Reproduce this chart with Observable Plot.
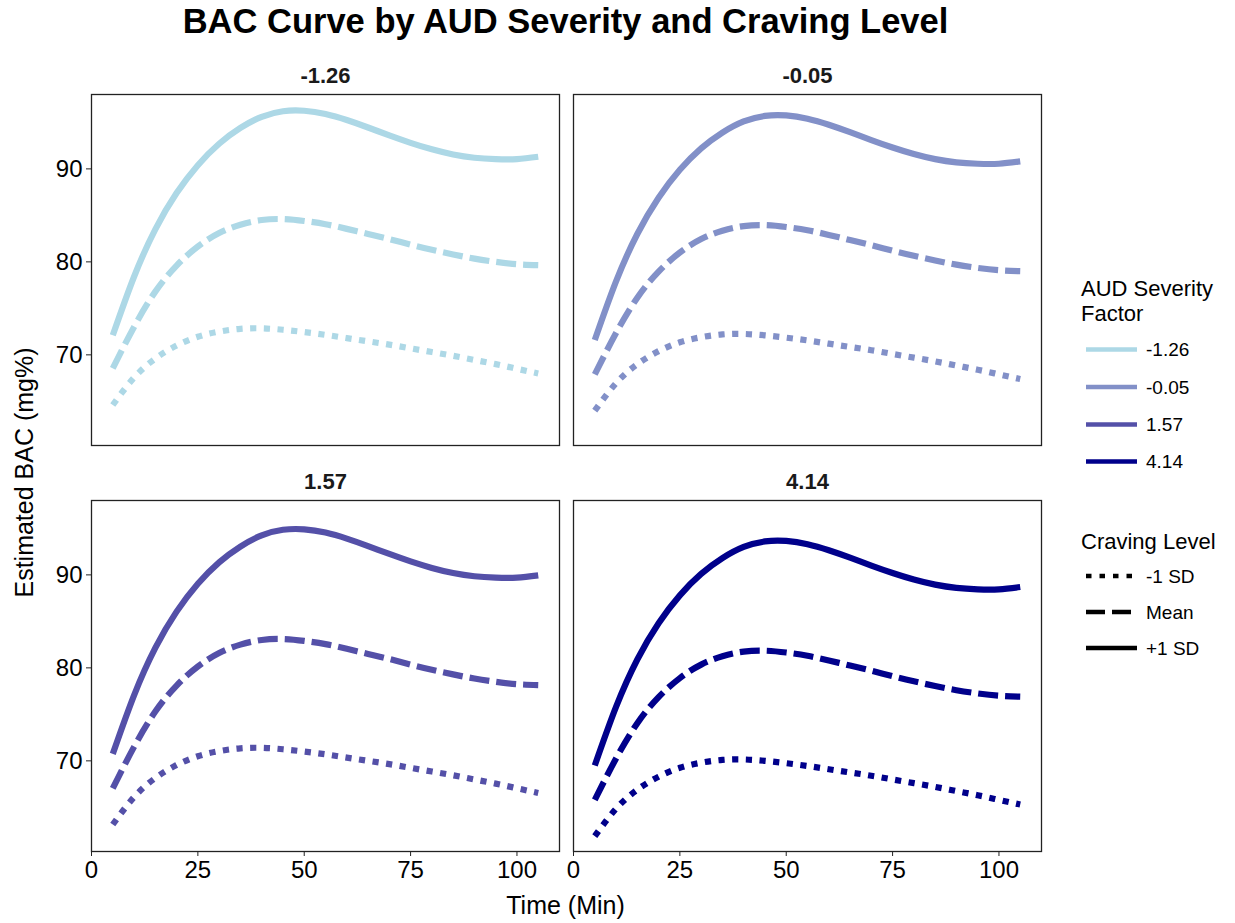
<!DOCTYPE html>
<html>
<head>
<meta charset="utf-8">
<script src="https://cdn.jsdelivr.net/npm/d3@7"></script>
<script src="https://cdn.jsdelivr.net/npm/@observablehq/plot@0.6"></script>
<style>
  html, body { margin: 0; padding: 0; background: #ffffff; }
  #chart { width: 1235px; height: 923px; }
</style>
</head>
<body>
<div id="chart"></div>
<script>
// ---------------- data ----------------
const times = [5, 10, 15, 20, 25, 30, 35, 40, 45, 50, 55, 60, 65, 70, 75, 80, 85, 90, 95, 100, 105];
const facets = ["-1.26", "-0.05", "1.57", "4.14"];
const cravingLevels = ["-1 SD", "Mean", "+1 SD"];
const facetColors = ["#ADD8E6", "#8290C8", "#5450A8", "#00008B"];
const xTicks = [0, 25, 50, 75, 100];
const yTicks = [70, 80, 90];

// AUD severity -1.26
const bacM126Low  = [64.6, 67.55, 69.6, 71.0, 71.95, 72.5, 72.8, 72.85, 72.7, 72.45, 72.15, 71.8, 71.45, 71.1, 70.7, 70.3, 69.9, 69.45, 69.0, 68.5, 68.0];
const bacM126Mean = [68.55, 73.0, 76.8, 79.6, 81.65, 83.1, 84.0, 84.5, 84.6, 84.4, 84.05, 83.55, 83.0, 82.45, 81.85, 81.3, 80.8, 80.35, 80.0, 79.75, 79.65];
const bacM126High = [72.1, 78.4, 83.5, 87.4, 90.4, 92.7, 94.4, 95.6, 96.2, 96.25, 95.9, 95.25, 94.45, 93.6, 92.8, 92.1, 91.55, 91.2, 91.05, 91.05, 91.3];
// AUD severity -0.05
const bacM005Low  = [64.0, 66.95, 69.0, 70.4, 71.35, 71.9, 72.2, 72.25, 72.1, 71.85, 71.55, 71.2, 70.85, 70.5, 70.1, 69.7, 69.3, 68.85, 68.4, 67.9, 67.4];
const bacM005Mean = [67.9, 72.35, 76.15, 78.95, 81.0, 82.45, 83.35, 83.85, 83.95, 83.75, 83.4, 82.9, 82.35, 81.8, 81.2, 80.65, 80.15, 79.7, 79.35, 79.1, 79.0];
const bacM005High = [71.6, 77.9, 83.0, 86.9, 89.9, 92.2, 93.9, 95.1, 95.7, 95.75, 95.4, 94.75, 93.95, 93.1, 92.3, 91.6, 91.05, 90.7, 90.55, 90.55, 90.8];
// AUD severity 1.57
const bacP157Low  = [63.15, 66.1, 68.15, 69.55, 70.5, 71.05, 71.35, 71.4, 71.25, 71.0, 70.7, 70.35, 70.0, 69.65, 69.25, 68.85, 68.45, 68.0, 67.55, 67.05, 66.55];
const bacP157Mean = [67.05, 71.5, 75.3, 78.1, 80.15, 81.6, 82.5, 83.0, 83.1, 82.9, 82.55, 82.05, 81.5, 80.95, 80.35, 79.8, 79.3, 78.85, 78.5, 78.25, 78.15];
const bacP157High = [70.75, 77.05, 82.15, 86.05, 89.05, 91.35, 93.05, 94.25, 94.85, 94.9, 94.55, 93.9, 93.1, 92.25, 91.45, 90.75, 90.2, 89.85, 89.7, 89.7, 89.95];
// AUD severity 4.14
const bacP414Low  = [61.9, 64.85, 66.9, 68.3, 69.25, 69.8, 70.1, 70.15, 70.0, 69.75, 69.45, 69.1, 68.75, 68.4, 68.0, 67.6, 67.2, 66.75, 66.3, 65.8, 65.3];
const bacP414Mean = [65.8, 70.25, 74.05, 76.85, 78.9, 80.35, 81.25, 81.75, 81.85, 81.65, 81.3, 80.8, 80.25, 79.7, 79.1, 78.55, 78.05, 77.6, 77.25, 77.0, 76.9];
const bacP414High = [69.5, 75.8, 80.9, 84.8, 87.8, 90.1, 91.8, 93.0, 93.6, 93.65, 93.3, 92.65, 91.85, 91.0, 90.2, 89.5, 88.95, 88.6, 88.45, 88.45, 88.7];

const bacSeries = [
  [bacM126Low, bacM126Mean, bacM126High],
  [bacM005Low, bacM005Mean, bacM005High],
  [bacP157Low, bacP157Mean, bacP157High],
  [bacP414Low, bacP414Mean, bacP414High]
];

// ---------------- tables ----------------
const rows = [];
facets.forEach((f, i) => {
  cravingLevels.forEach((c, k) => {
    bacSeries[i][k].forEach((v, j) => {
      rows.push({fac: f, crave: c, t: times[j], v: v, col: i % 2, row: Math.floor(i / 2)});
    });
  });
});
const facetRows = facets.map((f, i) => ({fac: f, col: i % 2, row: Math.floor(i / 2)}));

const FONT = "'Liberation Sans', Arial, Helvetica, sans-serif";
const dashes = {"-1 SD": "6.2,7.5", "Mean": "20,7", "+1 SD": null};

const lineMarks = cravingLevels.map(c => Plot.line(rows.filter(d => d.crave === c), {
  x: "t", y: "v", z: "fac", stroke: "fac", fx: "col", fy: "row",
  strokeWidth: 6.2, strokeLinecap: "butt", strokeLinejoin: "round",
  strokeDasharray: dashes[c] || undefined, curve: "natural"
}));

const W = 1235, H = 923;
const chart = Plot.plot({
  width: W, height: H,
  marginLeft: 90, marginRight: 193.5, marginTop: 93.3, marginBottom: 71,
  style: {fontFamily: FONT, fontSize: "24px", color: "#000", background: "#fff"},
  x: {domain: [0, 110]},
  y: {domain: [60.25, 98.0]},
  fx: {domain: [0, 1], paddingInner: 0.029, paddingOuter: 0, axis: null},
  fy: {domain: [0, 1], paddingInner: 0.1345, paddingOuter: 0, axis: null},
  color: {domain: facets, range: facetColors},
  marks: [
    ...lineMarks,
    Plot.frame({stroke: "#222", strokeWidth: 1.3}),
    Plot.axisX({ticks: xTicks, tickSize: 5, tickPadding: 4, fontSize: 24, label: null, stroke: "#222"}),
    Plot.axisY({ticks: yTicks, tickSize: 5, tickPadding: 4, fontSize: 24, label: null, stroke: "#222"}),
    Plot.text(facetRows, {fx: "col", fy: "row", text: "fac", frameAnchor: "top", lineAnchor: "bottom",
      dy: -12, fontWeight: "bold", fontSize: 22, fill: "#1a1a1a"})
  ]
});
document.getElementById("chart").appendChild(chart);

// ---------------- titles & legend ----------------
const svg = d3.select(chart);
svg.append("text").attr("x", 565.5).attr("y", 33).attr("text-anchor", "middle")
  .attr("font-family", FONT).attr("font-weight", "bold").attr("font-size", 34.5).attr("fill", "#000")
  .text("BAC Curve by AUD Severity and Craving Level");
svg.append("text").attr("x", 565.5).attr("y", 914).attr("text-anchor", "middle")
  .attr("font-family", FONT).attr("font-size", 25).attr("fill", "#000").text("Time (Min)");
svg.append("text").attr("transform", "translate(33,472.5) rotate(-90)").attr("text-anchor", "middle")
  .attr("font-family", FONT).attr("font-size", 25).attr("fill", "#000").text("Estimated BAC (mg%)");

const lg = svg.append("g").attr("font-family", FONT).attr("fill", "#000").attr("text-anchor", "start");
lg.append("text").attr("x", 1081).attr("y", 295.5).attr("font-size", 22).text("AUD Severity");
lg.append("text").attr("x", 1081).attr("y", 321).attr("font-size", 22).text("Factor");
const sevY = [349.5, 387, 424.5, 461.5];
facets.forEach((f, i) => {
  lg.append("line").attr("x1", 1086).attr("x2", 1137).attr("y1", sevY[i]).attr("y2", sevY[i])
    .attr("stroke", facetColors[i]).attr("stroke-width", 4.5);
  lg.append("text").attr("x", 1146).attr("y", sevY[i] + 6.8).attr("font-size", 19).text(f);
});
lg.append("text").attr("x", 1081).attr("y", 548.5).attr("font-size", 22).text("Craving Level");
const cravY = [576, 612, 648];
cravingLevels.forEach((c, i) => {
  const ln = lg.append("line").attr("x1", 1086).attr("x2", 1137).attr("y1", cravY[i]).attr("y2", cravY[i])
    .attr("stroke", "#000").attr("stroke-width", 4.5);
  if (dashes[c]) ln.attr("stroke-dasharray", c === "Mean" ? "19,7" : "5.5,8");
  lg.append("text").attr("x", 1146).attr("y", cravY[i] + 6.8).attr("font-size", 19).text(c);
});
</script>
</body>
</html>
